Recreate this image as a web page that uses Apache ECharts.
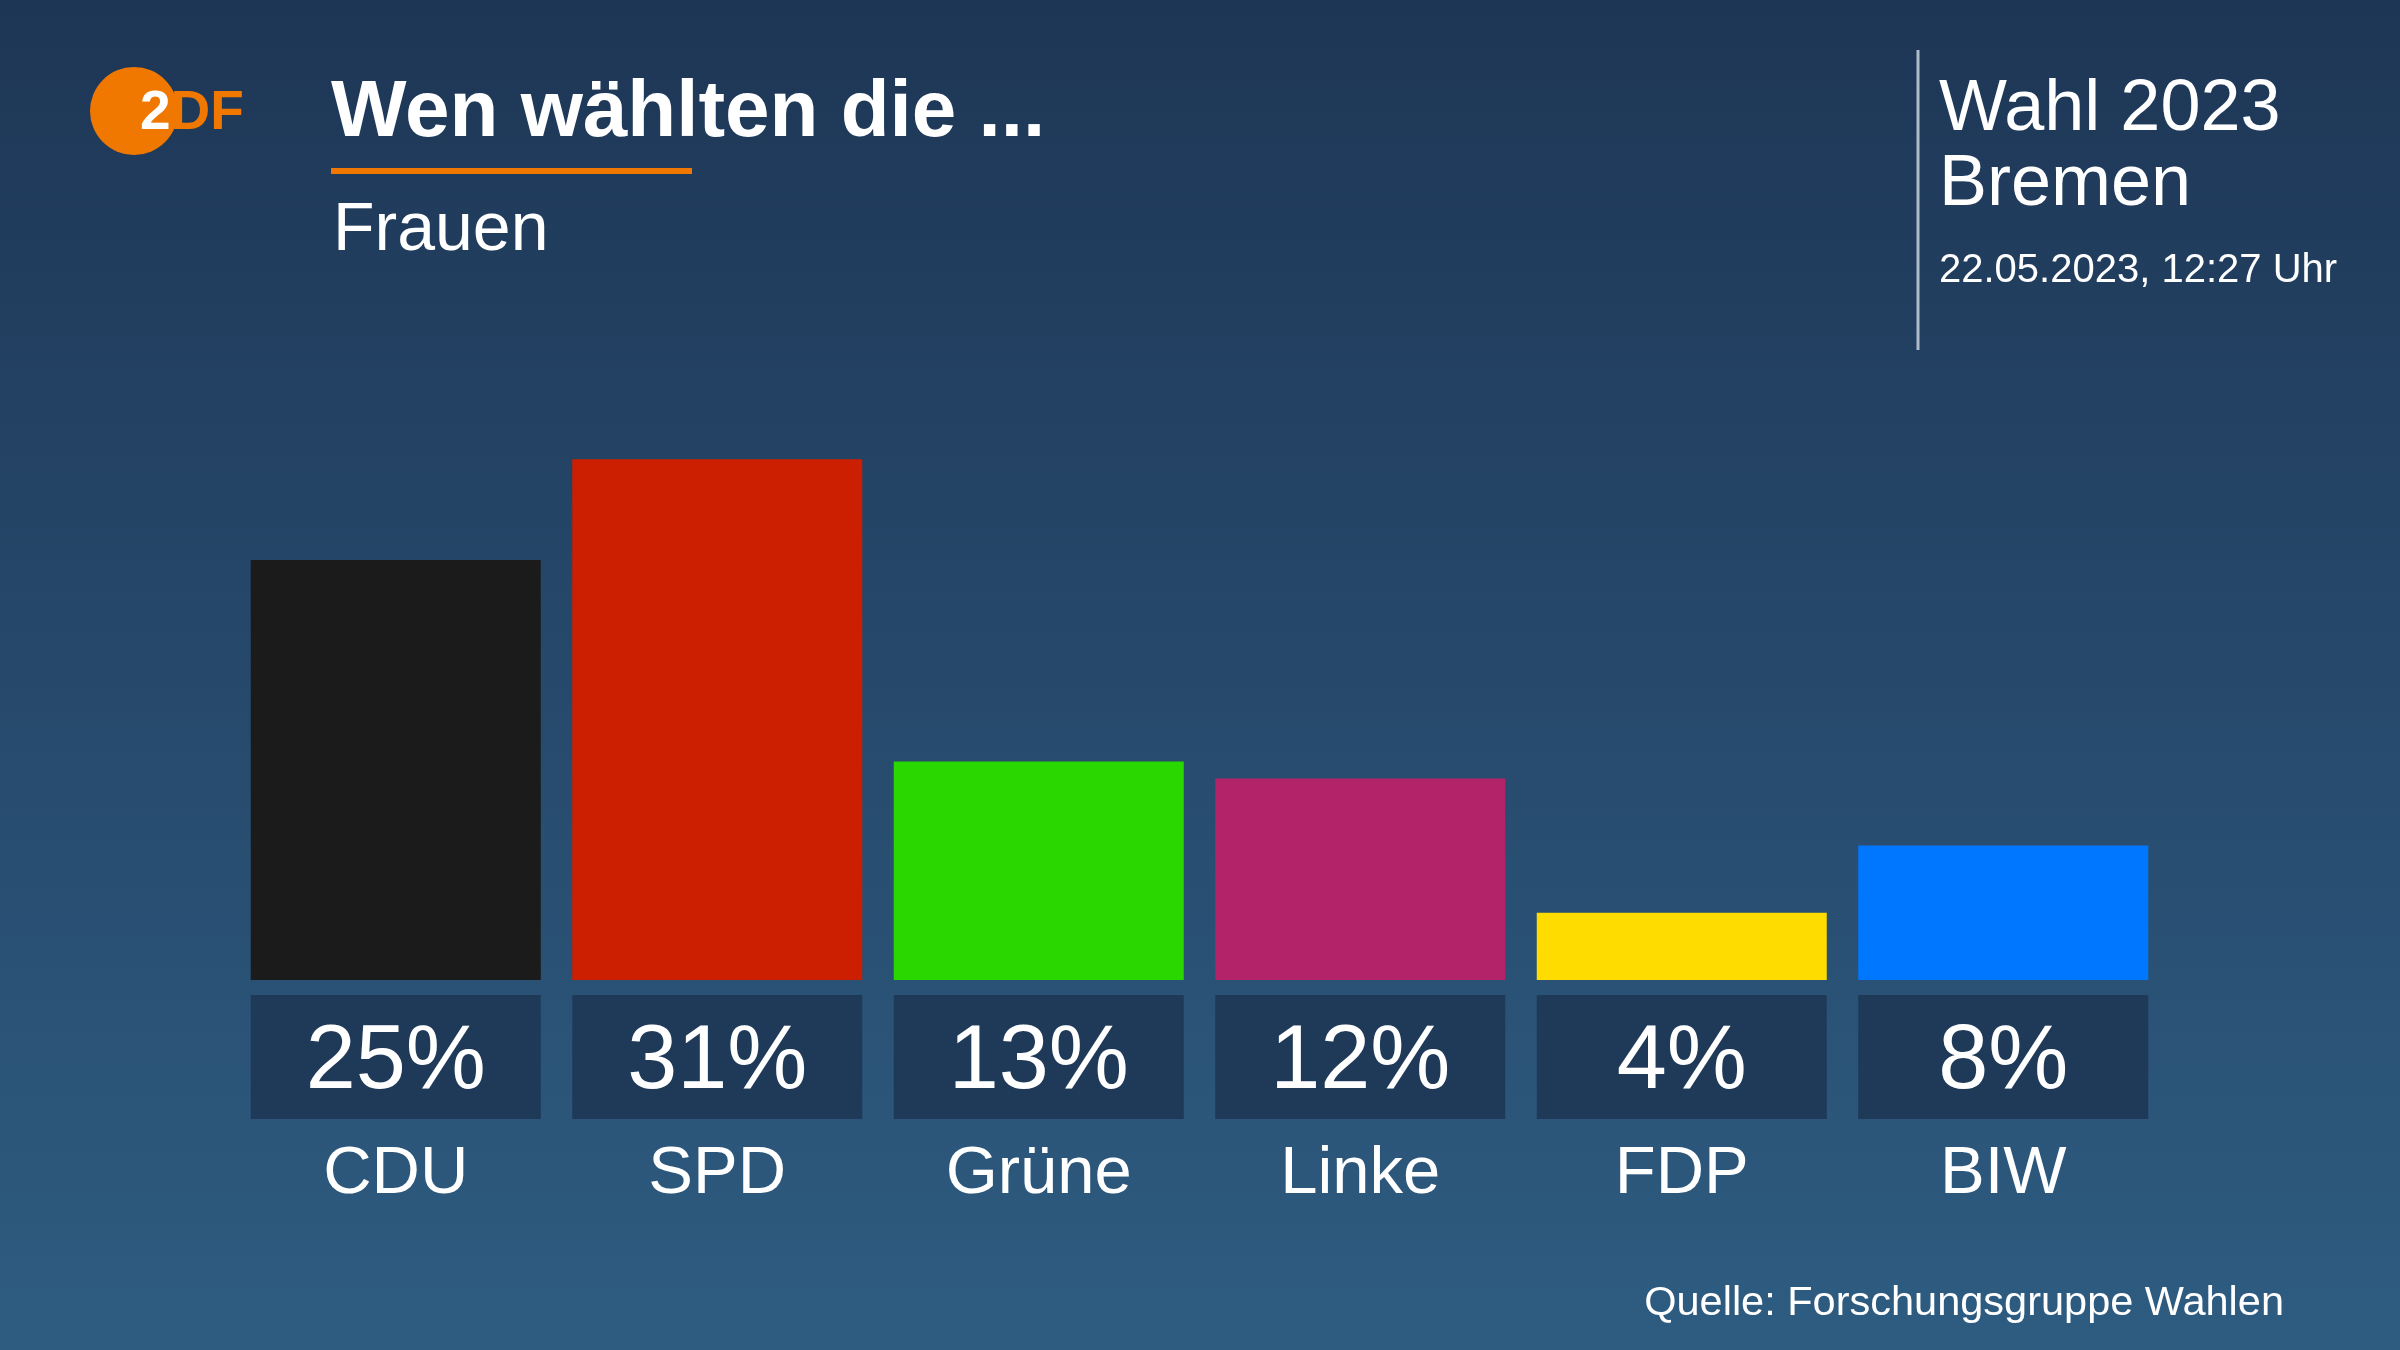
<!DOCTYPE html>
<html>
<head>
<meta charset="utf-8">
<style>
  html, body { margin: 0; padding: 0; width: 2400px; height: 1350px; overflow: hidden; }
  #chart { width: 2400px; height: 1350px; }
</style>
<script src="https://cdn.jsdelivr.net/npm/echarts@6/dist/echarts.min.js"></script>
</head>
<body>
<div id="chart"></div>
<script>
// ---- data ----
const parties = ['CDU', 'SPD', 'Grüne', 'Linke', 'FDP', 'BIW'];
const shares = [25, 31, 13, 12, 4, 8];
const partyColors = ['#1b1b1b', '#cc1e00', '#2ad800', '#b3236a', '#ffdc00', '#0077ff'];
const titleText = 'Wen wählten die ...';
const subtitleText = 'Frauen';
const electionText = 'Wahl 2023';
const regionText = 'Bremen';
const dateText = '22.05.2023, 12:27 Uhr';
const sourceText = 'Quelle: Forschungsgruppe Wahlen';

const FONT = '"Liberation Sans", Arial, Helvetica, sans-serif';
const ORANGE = '#f07800';
const BOX = '#1f3a59';

const chart = echarts.init(document.getElementById('chart'), null, { renderer: 'canvas' });

const option = {
  backgroundColor: {
    type: 'linear', x: 0, y: 0, x2: 0, y2: 1,
    colorStops: [
      { offset: 0, color: '#1e3656' },
      { offset: 0.5, color: '#26496b' },
      { offset: 1, color: '#2e5c81' }
    ]
  },
  animation: false,
  grid: { left: 235, right: 236, top: 308, bottom: 370, containLabel: false },
  xAxis: {
    type: 'category',
    data: parties,
    axisLine: { show: false },
    axisTick: { show: false },
    axisLabel: {
      interval: 0,
      margin: 15,
      fontFamily: FONT,
      color: '#ffffff',
      formatter: function (value, index) {
        return '{box|' + shares[index] + '%}\n{name|' + value + '}';
      },
      rich: {
        box: {
          width: 290, height: 112, lineHeight: 124, padding: [12, 0, 0, 0],
          backgroundColor: BOX, align: 'center', verticalAlign: 'middle',
          fontSize: 90, fontFamily: FONT, color: '#ffffff'
        },
        name: {
          fontSize: 67, lineHeight: 112, align: 'center',
          fontFamily: FONT, color: '#ffffff'
        }
      }
    }
  },
  yAxis: {
    type: 'value', min: 0, max: 40, interval: 10, show: false,
    splitLine: { show: false }
  },
  series: [{
    type: 'bar',
    data: shares.map((v, i) => ({ value: v, itemStyle: { color: partyColors[i] } })),
    barWidth: 290,
    label: { show: false }
  }],
  graphic: [
    // logo
    { type: 'circle', shape: { cx: 134, cy: 111, r: 44 }, style: { fill: ORANGE } },
    {
      type: 'text', x: 140, y: 114,
      style: {
        text: '{w|2}{o|DF}', verticalAlign: 'middle', align: 'left',
        rich: {
          w: { fontSize: 55, fontWeight: 'bold', fill: '#ffffff', fontFamily: FONT },
          o: { fontSize: 55, fontWeight: 'bold', fill: ORANGE, fontFamily: FONT }
        }
      }
    },
    // title block
    {
      type: 'text', x: 331, y: 114,
      style: { text: titleText, fontSize: 80, fontWeight: 'bold', fontFamily: FONT, fill: '#ffffff', verticalAlign: 'middle' }
    },
    { type: 'rect', shape: { x: 331, y: 168, width: 361, height: 6 }, style: { fill: ORANGE } },
    {
      type: 'text', x: 333, y: 231,
      style: { text: subtitleText, fontSize: 68, fontFamily: FONT, fill: '#ffffff', verticalAlign: 'middle' }
    },
    // right block
    { type: 'line', shape: { x1: 1918, y1: 50, x2: 1918, y2: 350 }, style: { stroke: '#aebbc9', lineWidth: 3 } },
    {
      type: 'text', x: 1939, y: 110,
      style: { text: electionText, fontSize: 72, fontFamily: FONT, fill: '#ffffff', verticalAlign: 'middle' }
    },
    {
      type: 'text', x: 1939, y: 185,
      style: { text: regionText, fontSize: 72, fontFamily: FONT, fill: '#ffffff', verticalAlign: 'middle' }
    },
    {
      type: 'text', x: 1939, y: 271,
      style: { text: dateText, fontSize: 40, fontFamily: FONT, fill: '#ffffff', verticalAlign: 'middle' }
    },
    // source
    {
      type: 'text', x: 2284, y: 1304,
      style: { text: sourceText, fontSize: 41.5, fontFamily: FONT, fill: '#ffffff', align: 'right', verticalAlign: 'middle' }
    }
  ]
};

chart.setOption(option);
</script>
</body>
</html>
